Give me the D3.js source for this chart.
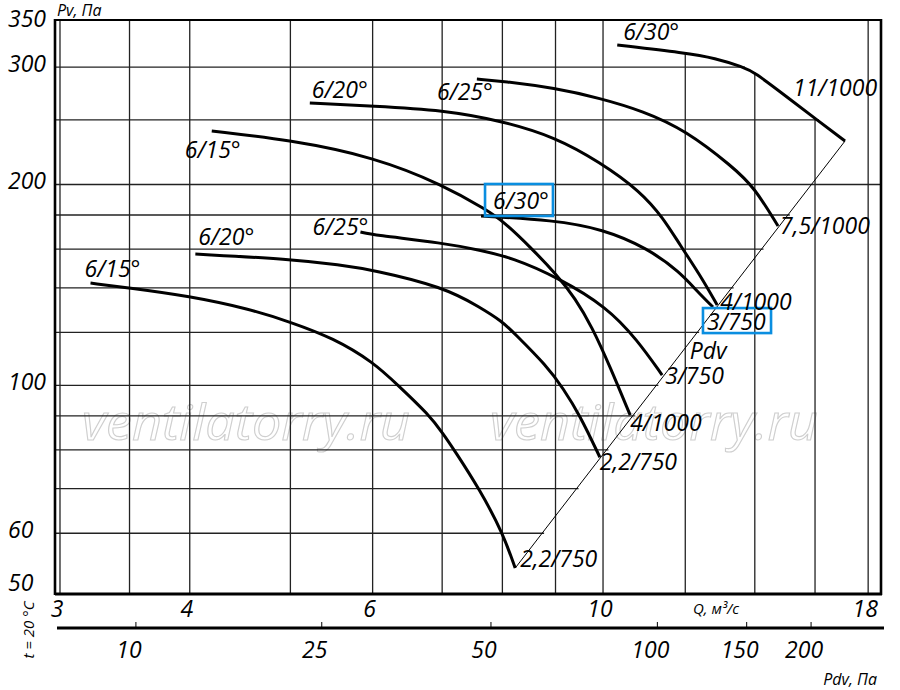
<!DOCTYPE html>
<html><head><meta charset="utf-8">
<script src="https://cdn.jsdelivr.net/npm/d3@7/dist/d3.min.js"></script>
<style>
html,body{margin:0;padding:0;background:#fff;}
svg{display:block;}
text{font-family:"Open Sans","Noto Sans",sans-serif;font-style:italic;fill:#000;}
</style></head><body>
<svg id="chart" width="900" height="690"></svg>
<script>
// ---------- data ----------
const qDomain = [2.967, 18.52];      // Q, m3/s  (plot frame extent)
const pDomain = [48.65, 352.9];      // Pv, Pa   (plot frame extent)
const qGrid = [3, 3.5, 4, 5, 6, 7, 8, 9, 10, 12, 14, 16, 18];
const pGrid = [60, 70, 80, 90, 100, 120, 140, 160, 180, 200, 250, 300];
const pGridFull = [200];
const qTickLabels = [3, 4, 6, 10, 18];
const pTickLabels = [350, 300, 200, 100, 60, 50];
const pdvTicks = [10, 25, 50, 100, 150, 200];
const pdvTickQ = [3.55, 5.36, 7.80, 11.28, 13.75, 15.86];

// lower family
const l1Q = [3.21, 3.50, 3.99, 4.57, 5.00, 5.50, 6.01, 6.36, 6.79, 7.02, 7.20, 7.61, 8.01, 8.23];
const l1P = [142.3, 139.9, 136.1, 130.1, 124.4, 117.7, 108.3, 99.7, 90.5, 84.5, 79.7, 69.7, 60.0, 53.2];
const l2Q = [4.05, 5.00, 5.58, 6.01, 7.02, 7.61, 8.01, 8.19, 8.83, 9.15, 9.50, 9.93];
const l2P = [157.3, 154.6, 151.5, 148.9, 140.4, 131.0, 124.4, 120.2, 106.9, 99.0, 90.2, 78.0];
const l3Q = [5.84, 6.01, 7.02, 7.61, 8.19, 9.03, 10.09, 10.79, 11.40];
const l3P = [169.7, 168.0, 163.4, 159.5, 155.2, 145.3, 131.0, 116.9, 103.6];
const l4Q = [7.63, 8.95, 10.00, 11.03, 11.86, 12.29, 12.76];
const l4P = [179.4, 176.9, 171.5, 160.6, 147.8, 138.9, 131.0];
// upper family
const u1Q = [4.20, 5.00, 6.02, 7.02, 7.73, 8.01, 8.51, 9.03, 9.40, 9.76, 10.16, 10.62];
const u1P = [240.5, 233.2, 219.9, 199.6, 183.1, 176.3, 161.2, 146.3, 135.1, 122.3, 106.5, 90.2];
const u2Q = [5.22, 6.01, 7.02, 8.01, 8.99, 9.93, 10.86, 11.43, 11.86, 12.40, 12.88];
const u2P = [264.9, 262.2, 258.6, 248.9, 235.6, 216.1, 195.5, 178.1, 162.3, 146.3, 131.9];
const u3Q = [7.56, 8.01, 8.99, 9.93, 10.93, 12.00, 13.34, 13.98, 14.74];
const u3P = [287.8, 285.8, 279.0, 269.5, 257.7, 241.4, 212.4, 198.2, 173.3];
const u4Q = [10.32, 12.00, 12.82, 13.64, 13.98, 15.04, 16.07, 17.10];
const u4P = [323.7, 314.9, 309.5, 300.0, 294.9, 270.5, 249.9, 232.4];
// dynamic pressure line
const pdvLineQ = [8.23, 17.10];
const pdvLineP = [53.2, 232.4];

const startLabels = ["6/15°", "6/20°", "6/25°", "6/30°", "6/15°", "6/20°", "6/25°", "6/30°"];
const endLabels = ["2,2/750", "2,2/750", "3/750", "3/750", "4/1000", "4/1000", "7,5/1000", "11/1000"];

// ---------- layout / style ----------
const L = 55, R = 881, T = 20, B = 594;
const labelLayout = [
  {s:[-6,-6,"start"], e:[5,-1,"start"]},
  {s:[3,-9,"start"], e:[0,13,"start"]},
  {s:[8,3,"end"], e:[3,9,"start"]},
  {s:[12,-7,"start"], e:[-6,23,"start"], box:true},
  {s:[-27,27,"start"], e:[0,16,"start"]},
  {s:[2,-5,"start"], e:[3,5,"start"]},
  {s:[16,21,"end"], e:[2,8,"start"]},
  {s:[6,-5,"start"], e:[-52,-45,"start"]}
];
const boxPad = [{l:8,r:4,t:0,b:0},{l:4,r:5,t:-3,b:-4}];
const blue = "#0a8ee0";
const labelFont = "23px";

const svg = d3.select("#chart");
const x = d3.scaleLog().domain(qDomain).range([L, R]);
const y = d3.scaleLog().domain(pDomain).range([B, T]);
const pdvToQ = d3.scaleLog().domain(pdvTicks).range(pdvTickQ);

function interpLog(xs, ys, v) {
  const lx = xs.map(Math.log), ly = ys.map(Math.log), lv = Math.log(v);
  for (let i = 0; i < lx.length - 1; i++) {
    const a = lx[i], b = lx[i+1];
    if ((lv - a) * (lv - b) <= 0) {
      const t = (lv - a) / (b - a);
      return Math.exp(ly[i] + t * (ly[i+1] - ly[i]));
    }
  }
  return null;
}

// ---------- watermark ----------
const wm = svg.append("g");
[82, 490].forEach(wx => {
  wm.append("text").attr("x", wx).attr("y", 440)
    .attr("textLength", 328).attr("lengthAdjust", "spacingAndGlyphs")
    .style("font-size", "50px").style("fill", "none")
    .style("stroke", "#cfcfcf").style("stroke-width", 1.1)
    .text("ventilatorry.ru");
});

// ---------- grid ----------
const grid = svg.append("g").attr("stroke", "#222").attr("stroke-width", 1.3).attr("fill", "none");
qGrid.forEach(q => {
  let top = T;
  const pu = interpLog(u4Q, u4P, q);
  if (pu !== null) top = y(pu);
  grid.append("line").attr("x1", x(q)).attr("x2", x(q)).attr("y1", top).attr("y2", B);
});
pGrid.forEach(p => {
  let xe = R;
  if (!pGridFull.includes(p)) {
    const qs = [];
    const qa = interpLog(pdvLineP, pdvLineQ, p); if (qa !== null) qs.push(qa);
    const qb = interpLog(u4P, u4Q, p); if (qb !== null) qs.push(qb);
    if (qs.length) xe = x(d3.min(qs)) + 2;
  }
  grid.append("line").attr("x1", L).attr("x2", xe).attr("y1", y(p)).attr("y2", y(p));
});

// ---------- frame ----------
const fr = svg.append("g").attr("stroke", "#000").attr("fill", "none");
fr.append("line").attr("x1", L).attr("x2", R).attr("y1", T).attr("y2", T).attr("stroke-width", 2);
fr.append("line").attr("x1", L).attr("x2", R + 1).attr("y1", B).attr("y2", B).attr("stroke-width", 2.8);
fr.append("line").attr("x1", L).attr("x2", L).attr("y1", T - 1).attr("y2", B + 1).attr("stroke-width", 2.6);
fr.append("line").attr("x1", R).attr("x2", R).attr("y1", T - 1).attr("y2", B + 1).attr("stroke-width", 2.6);

// ---------- Pdv line ----------
const pdvData = pdvLineQ.map((q, i) => ({q, p: pdvLineP[i]}));
svg.append("path").datum(pdvData)
  .attr("d", d3.line().x(d => x(d.q)).y(d => y(d.p)))
  .attr("stroke", "#000").attr("stroke-width", 1).attr("fill", "none");

// ---------- curves ----------
const curves = [[l1Q,l1P],[l2Q,l2P],[l3Q,l3P],[l4Q,l4P],[u1Q,u1P],[u2Q,u2P],[u3Q,u3P],[u4Q,u4P]];
const line = d3.line().x(d => x(d.q)).y(d => y(d.p)).curve(d3.curveBasis);
const cg = svg.append("g");
const lg = svg.append("g").style("font-size", labelFont);
let boxIdx = 0;
curves.forEach((c, i) => {
  const pts = c[0].map((q, k) => ({q, p: c[1][k]}));
  cg.append("path").datum(pts).attr("d", line)
    .attr("stroke", "#000").attr("stroke-width", 3).attr("fill", "none").attr("stroke-linecap", "butt");
  const s = pts[0], e = pts[pts.length - 1], lay = labelLayout[i];
  const ts = lg.append("text").attr("x", x(s.q) + lay.s[0]).attr("y", y(s.p) + lay.s[1])
    .attr("text-anchor", lay.s[2]).text(startLabels[i]);
  const te = lg.append("text").attr("x", x(e.q) + lay.e[0]).attr("y", y(e.p) + lay.e[1])
    .attr("text-anchor", lay.e[2]).text(endLabels[i]);
  if (lay.box) {
    [ts, te].forEach(t => {
      const bb = t.node().getBBox(), pd = boxPad[boxIdx++];
      lg.append("rect").attr("x", bb.x - pd.l).attr("y", bb.y - pd.t)
        .attr("width", bb.width + pd.l + pd.r).attr("height", bb.height + pd.t + pd.b)
        .attr("fill", "none").attr("stroke", blue).attr("stroke-width", 2.6);
    });
  }
});
// Pdv label on the line
const pdvLabelQ = 11.8;
lg.append("text").attr("x", x(pdvLabelQ) + 12).attr("y", y(interpLog(pdvLineQ, pdvLineP, pdvLabelQ)) + 1)
  .text("Pdv");

// ---------- axis labels ----------
const ax = svg.append("g").style("font-size", labelFont);
pTickLabels.forEach(p => {
  ax.append("text").attr("x", 8).attr("y", y(p) + 5).text(p);
});
qTickLabels.forEach(q => {
  ax.append("text").attr("x", x(q) - 3).attr("y", 617).attr("text-anchor", "middle").text(q);
});
svg.append("text").attr("x", 693).attr("y", 614).style("font-size", "15px").text("Q, м³/с");
svg.append("text").attr("x", 57).attr("y", 16).style("font-size", "16px").text("Pv, Па");
svg.append("text").attr("x", 877).attr("y", 685).attr("text-anchor", "end").style("font-size", "16px").text("Pdv, Па");
svg.append("text").attr("transform", "translate(34,630) rotate(-90)").attr("text-anchor", "middle")
  .style("font-size", "15px").text("t = 20 °C");

// ---------- Pdv axis ----------
const pa = svg.append("g");
pa.append("line").attr("x1", 57).attr("x2", 884).attr("y1", 628).attr("y2", 628)
  .attr("stroke", "#000").attr("stroke-width", 2.8);
pdvTicks.forEach(v => {
  const px = x(pdvToQ(v));
  pa.append("line").attr("x1", px).attr("x2", px).attr("y1", 622).attr("y2", 628)
    .attr("stroke", "#000").attr("stroke-width", 1);
  pa.append("text").attr("x", px - 7).attr("y", 658).attr("text-anchor", "middle")
    .style("font-size", labelFont).text(v);
});
</script>
</body></html>
